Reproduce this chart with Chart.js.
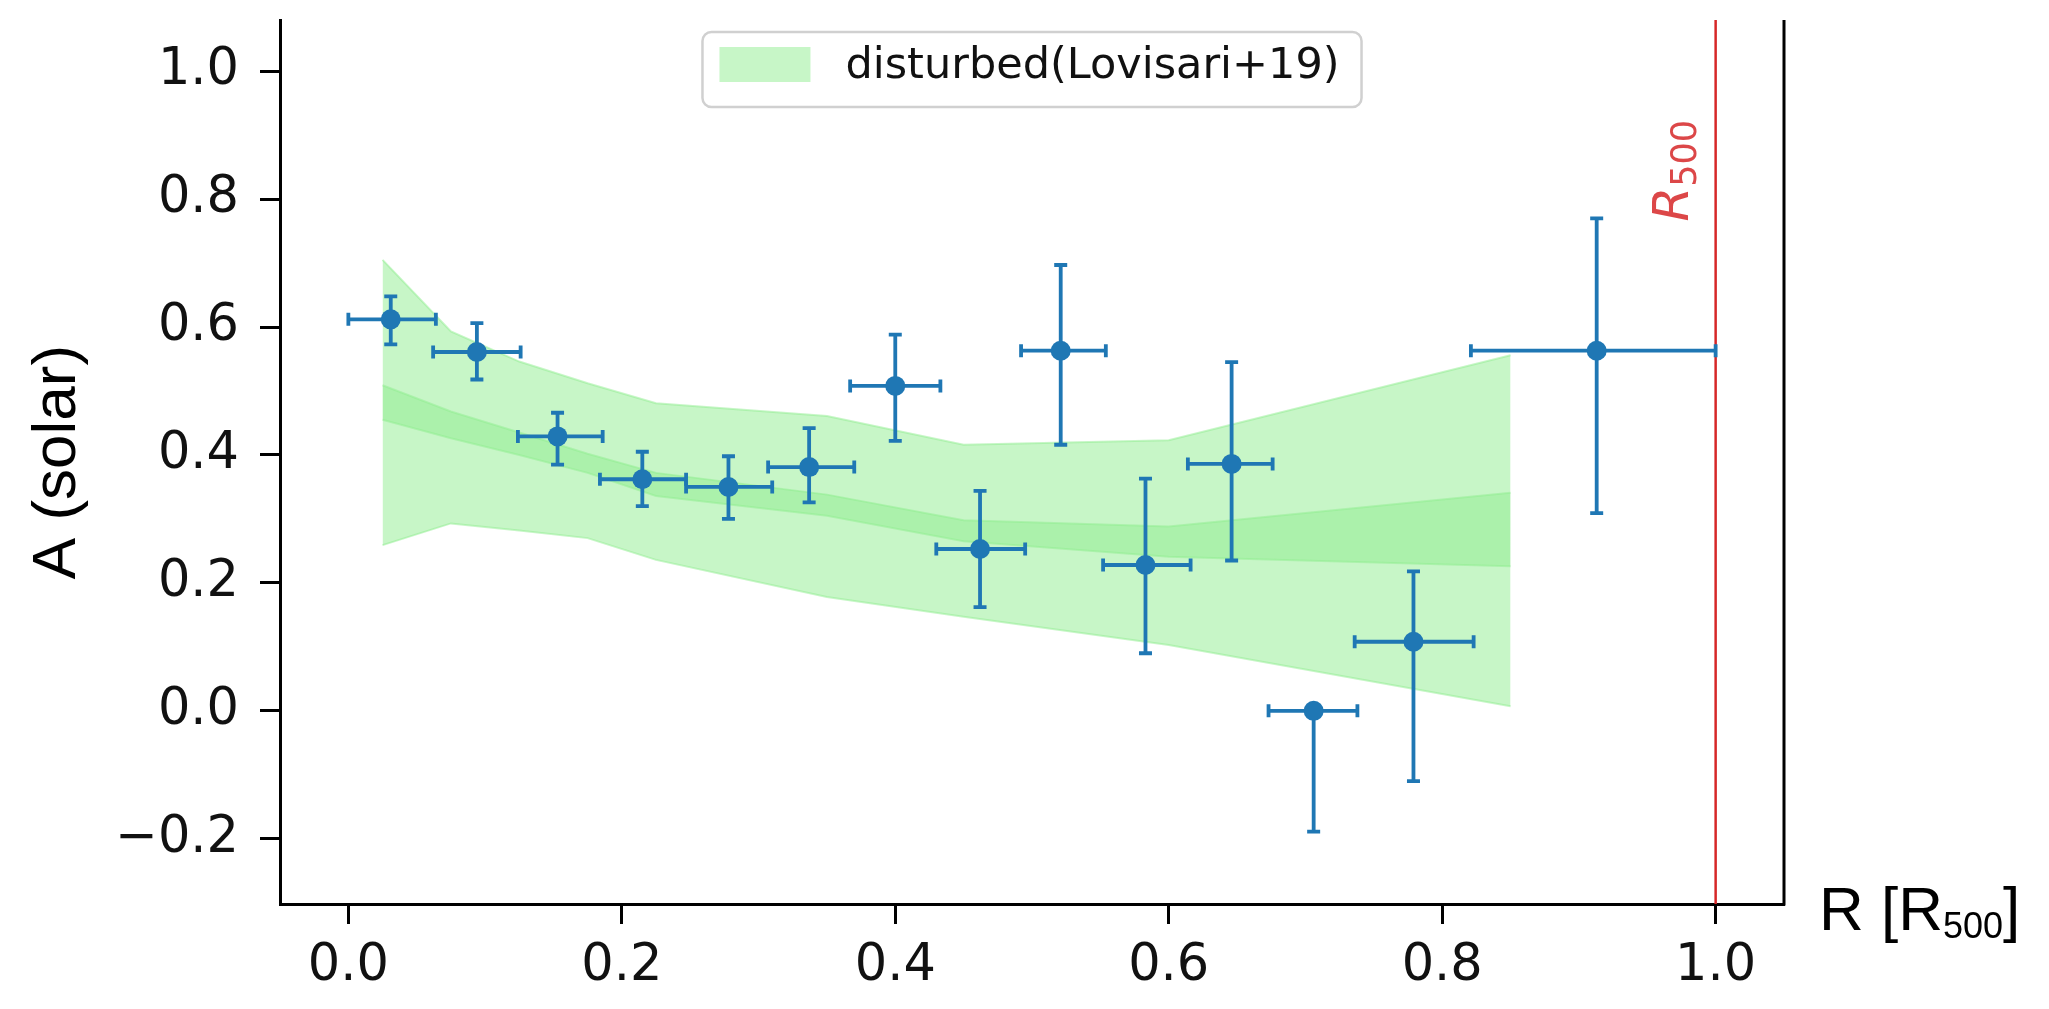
<!DOCTYPE html>
<html>
<head>
<meta charset="utf-8">
<script src="https://cdn.jsdelivr.net/npm/chart.js@4.4.1/dist/chart.umd.min.js"></script>
<style>
  html, body { margin: 0; padding: 0; background: #fff; }
  #chart { display: block; }
</style>
</head>
<body>
<canvas id="chart" width="2049" height="1009"></canvas>
<script>
// measured profile: bin centre, value and the error bar ends
const radius   = [0.031, 0.094, 0.153, 0.215, 0.278, 0.337, 0.400, 0.462, 0.521, 0.583, 0.646, 0.706, 0.779, 0.913];
const radiusLo = [0.000, 0.062, 0.124, 0.184, 0.247, 0.307, 0.367, 0.430, 0.492, 0.552, 0.614, 0.673, 0.736, 0.821];
const radiusHi = [0.064, 0.126, 0.186, 0.247, 0.310, 0.370, 0.433, 0.495, 0.554, 0.616, 0.676, 0.738, 0.823, 1.000];
const abund    = [0.612, 0.561, 0.429, 0.362, 0.350, 0.381, 0.508, 0.253, 0.563, 0.228, 0.386, 0.000, 0.108, 0.563];
const abundLo  = [0.573, 0.518, 0.385, 0.320, 0.300, 0.326, 0.422, 0.162, 0.416, 0.090, 0.235, -0.189, -0.110, 0.309];
const abundHi  = [0.648, 0.606, 0.466, 0.405, 0.398, 0.442, 0.588, 0.344, 0.697, 0.363, 0.545, 0.000, 0.218, 0.770];

// Lovisari+19 disturbed clusters: scatter band and mean band
const bandR   = [0.025, 0.075, 0.125, 0.175, 0.225, 0.35, 0.45, 0.60, 0.85];
const outerHi = [0.705, 0.593, 0.546, 0.512, 0.481, 0.461, 0.416, 0.423, 0.556];
const outerLo = [0.259, 0.293, 0.282, 0.270, 0.236, 0.178, 0.147, 0.103, 0.007];
const innerHi = [0.509, 0.468, 0.435, 0.402, 0.372, 0.338, 0.298, 0.288, 0.341];
const innerLo = [0.455, 0.426, 0.400, 0.372, 0.336, 0.305, 0.265, 0.241, 0.226];

const xTicks = [0.0, 0.2, 0.4, 0.6, 0.8, 1.0];
const yTicks = [-0.2, 0.0, 0.2, 0.4, 0.6, 0.8, 1.0];
const X_MIN = -0.05, X_MAX = 1.05;
const Y_MIN = -0.302, Y_MAX = 1.08;
const R500 = 1.0;
const R500_LABEL = { x: 0.98, y: 0.765 };

const BLUE = '#1f77b4';
const RED = '#d62728';
const GREEN = 'rgba(144, 238, 144, 0.5)';
const TICK_FONT = '"DejaVu Sans"';
const LABEL_FONT = '"Liberation Sans", Arial, sans-serif';

const pts = (xs, ys) => xs.map((v, i) => ({ x: v, y: ys[i] }));
const fmt = v => Number(v).toFixed(1).replace('-', '\u2212');

function bandLine(ys, fill) {
  return {
    type: 'line',
    data: pts(bandR, ys),
    borderColor: GREEN,
    borderWidth: 2,
    backgroundColor: GREEN,
    pointRadius: 0,
    tension: 0,
    fill: fill,
    order: 3
  };
}

// x/y error bars, drawn just under the markers
const errorBars = {
  id: 'errorBars',
  beforeDatasetDraw(chart, args) {
    if (chart.data.datasets[args.index].label !== 'profile') return;
    const { ctx, scales: { x, y } } = chart;
    const cap = 6.5;
    ctx.save();
    ctx.strokeStyle = BLUE;
    ctx.lineWidth = 3.8;
    radius.forEach((r, i) => {
      const px = x.getPixelForValue(r);
      const py = y.getPixelForValue(abund[i]);
      const x0 = x.getPixelForValue(radiusLo[i]);
      const x1 = x.getPixelForValue(radiusHi[i]);
      const y0 = y.getPixelForValue(abundLo[i]);
      const y1 = y.getPixelForValue(abundHi[i]);
      ctx.beginPath();
      ctx.moveTo(x0, py); ctx.lineTo(x1, py);
      ctx.moveTo(px, y0); ctx.lineTo(px, y1);
      ctx.moveTo(x0, py - cap); ctx.lineTo(x0, py + cap);
      ctx.moveTo(x1, py - cap); ctx.lineTo(x1, py + cap);
      ctx.moveTo(px - cap, y0); ctx.lineTo(px + cap, y0);
      ctx.moveTo(px - cap, y1); ctx.lineTo(px + cap, y1);
      ctx.stroke();
    });
    ctx.restore();
  }
};

// right spine, axis titles, legend and the R500 note
const decorations = {
  id: 'decorations',
  afterDraw(chart) {
    const { ctx, chartArea: a, scales: { x, y } } = chart;
    ctx.save();

    ctx.strokeStyle = '#000';
    ctx.lineWidth = 3;
    ctx.beginPath();
    ctx.moveTo(a.right, a.top);
    ctx.lineTo(a.right, a.bottom + 1.5);
    ctx.stroke();

    // y title
    ctx.fillStyle = '#000';
    ctx.save();
    ctx.translate(58, (a.top + a.bottom) / 2);
    ctx.rotate(-Math.PI / 2);
    ctx.font = '62px ' + LABEL_FONT;
    ctx.textAlign = 'center';
    ctx.textBaseline = 'middle';
    ctx.fillText('A (solar)', 0, 0);
    ctx.restore();

    // x title, sitting to the right of the axis
    let tx = a.right + 35;
    const base = a.bottom + 26;
    ctx.textAlign = 'left';
    ctx.textBaseline = 'alphabetic';
    ctx.font = '62px ' + LABEL_FONT;
    ctx.fillText('R [R', tx, base);
    tx += ctx.measureText('R [R').width;
    ctx.font = '36px ' + LABEL_FONT;
    ctx.fillText('500', tx, base + 8);
    tx += ctx.measureText('500').width;
    ctx.font = '62px ' + LABEL_FONT;
    ctx.fillText(']', tx, base);

    // R500 label beside the vertical line
    ctx.save();
    ctx.translate(x.getPixelForValue(R500_LABEL.x), y.getPixelForValue(R500_LABEL.y));
    ctx.rotate(-Math.PI / 2);
    ctx.fillStyle = 'rgba(214, 39, 40, 0.85)';
    ctx.font = 'italic 50px ' + TICK_FONT;
    ctx.fillText('R', 0, 0);
    const rw = ctx.measureText('R').width;
    ctx.font = '35px ' + TICK_FONT;
    ctx.fillText('500', rw, 8);
    ctx.restore();

    // legend, upper centre
    const label = 'disturbed(Lovisari+19)';
    ctx.font = '43px ' + TICK_FONT;
    const textW = ctx.measureText(label).width;
    const patchW = 91, patchH = 35;
    const boxW = 17 + patchW + 35 + textW + 22;
    const boxH = 75;
    const bx = (a.left + a.right) / 2 - boxW / 2;
    const by = a.top + 12;
    ctx.beginPath();
    ctx.roundRect(bx, by, boxW, boxH, 9);
    ctx.fillStyle = 'rgba(255, 255, 255, 0.8)';
    ctx.fill();
    ctx.strokeStyle = '#d0d0d0';
    ctx.lineWidth = 2.5;
    ctx.stroke();
    ctx.fillStyle = GREEN;
    ctx.fillRect(bx + 17, by + 15, patchW, patchH);
    ctx.fillStyle = '#111';
    ctx.textBaseline = 'middle';
    ctx.fillText(label, bx + 17 + patchW + 35, by + 15 + patchH / 2 + 2);

    ctx.restore();
  }
};

const axisCommon = {
  type: 'linear',
  grid: {
    display: true,
    drawOnChartArea: false,
    drawTicks: true,
    tickLength: 20,
    tickWidth: 3,
    color: '#000'
  },
  border: { display: true, color: '#000', width: 3 },
  ticks: {
    color: '#111',
    font: { family: 'DejaVu Sans', size: 51 },
    callback: v => fmt(v)
  }
};

// keep the plot box fixed: no extra room for overhanging end labels
function noOverhang(s) {
  s.paddingTop = 0;
  s.paddingBottom = 0;
  s.paddingLeft = 0;
  s.paddingRight = 0;
}

new Chart(document.getElementById('chart'), {
  type: 'scatter',
  data: {
    datasets: [
      bandLine(outerHi, '+1'),
      bandLine(outerLo, false),
      bandLine(innerHi, '+1'),
      bandLine(innerLo, false),
      {
        type: 'line',
        label: 'r500',
        data: [{ x: R500, y: Y_MIN }, { x: R500, y: Y_MAX }],
        borderColor: RED,
        borderWidth: 2.5,
        pointRadius: 0,
        fill: false,
        order: 1
      },
      {
        label: 'profile',
        data: pts(radius, abund),
        pointRadius: 10,
        pointBackgroundColor: BLUE,
        pointBorderWidth: 0,
        order: 0
      }
    ]
  },
  options: {
    responsive: false,
    animation: false,
    devicePixelRatio: 1,
    layout: { padding: { left: 0, top: 20, right: 265, bottom: 0 } },
    plugins: {
      legend: { display: false },
      tooltip: { enabled: false }
    },
    scales: {
      x: {
        ...axisCommon,
        min: X_MIN,
        max: X_MAX,
        ticks: { ...axisCommon.ticks, padding: 12, maxRotation: 0 },
        afterBuildTicks: s => { s.ticks = xTicks.map(v => ({ value: v })); },
        afterFit: s => { s.height = 105; noOverhang(s); }
      },
      y: {
        ...axisCommon,
        min: Y_MIN,
        max: Y_MAX,
        ticks: { ...axisCommon.ticks, padding: 21 },
        afterBuildTicks: s => { s.ticks = yTicks.map(v => ({ value: v })); },
        afterFit: s => { s.width = 280; noOverhang(s); }
      }
    }
  },
  plugins: [errorBars, decorations]
});
</script>
</body>
</html>
